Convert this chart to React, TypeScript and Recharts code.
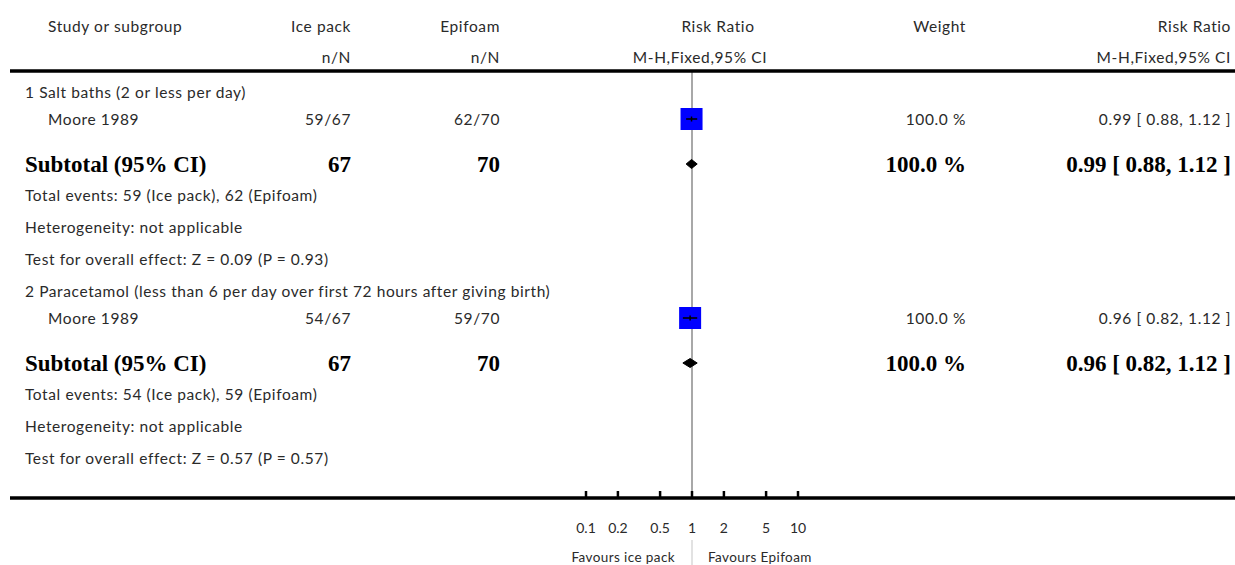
import React from 'react';
import { ScatterChart, Scatter, XAxis, YAxis, ReferenceLine } from 'recharts';

// ---------- data ----------
const rowKinds = ['group', 'study', 'subtotal', 'note', 'note', 'note', 'group', 'study', 'subtotal', 'note', 'note', 'note'];
const studyLabels = [
  '1 Salt baths (2 or less per day)',
  'Moore 1989',
  'Subtotal (95% CI)',
  'Total events: 59 (Ice pack), 62 (Epifoam)',
  'Heterogeneity: not applicable',
  'Test for overall effect: Z = 0.09 (P = 0.93)',
  '2 Paracetamol (less than 6 per day over first 72 hours after giving birth)',
  'Moore 1989',
  'Subtotal (95% CI)',
  'Total events: 54 (Ice pack), 59 (Epifoam)',
  'Heterogeneity: not applicable',
  'Test for overall effect: Z = 0.57 (P = 0.57)',
];
const icePackCol = ['', '59/67', '67', '', '', '', '', '54/67', '67', '', '', ''];
const epifoamCol = ['', '62/70', '70', '', '', '', '', '59/70', '70', '', '', ''];
const weightCol = ['', '100.0 %', '100.0 %', '', '', '', '', '100.0 %', '100.0 %', '', '', ''];
const rrCol = ['', '0.99 [ 0.88, 1.12 ]', '0.99 [ 0.88, 1.12 ]', '', '', '', '', '0.96 [ 0.82, 1.12 ]', '0.96 [ 0.82, 1.12 ]', '', '', ''];

const studyRows = [1, 7];
const studyRR = [0.99, 0.96];
const studyLo = [0.88, 0.82];
const studyHi = [1.12, 1.12];
const studyWeight = [100, 100];

const subtotalRows = [2, 8];
const subtotalRR = [0.99, 0.96];
const subtotalLo = [0.88, 0.82];
const subtotalHi = [1.12, 1.12];

const xTicks = [0.1, 0.2, 0.5, 1, 2, 5, 10];
const header1 = ['Study or subgroup', 'Ice pack', 'Epifoam', 'Risk Ratio', 'Weight', 'Risk Ratio'];
const header2 = ['', 'n/N', 'n/N', 'M-H,Fixed,95% CI', '', 'M-H,Fixed,95% CI'];
const favoursLeft = 'Favours ice pack';
const favoursRight = 'Favours Epifoam';

// ---------- layout ----------
const W = 1235;
const H = 565;
const PLOT_LEFT = 586;
const PLOT_RIGHT = 798;
const PLOT_TOP = 71;
const PLOT_BOTTOM = 498;
const XAXIS_H = 30;
const ROW = 32;
const FIRST_OFFSET = 21;

const COL_GROUP_X = 25;
const COL_STUDY_X = 48;
const COL_ICE_R = 351;
const COL_EPI_R = 500;
const COL_PLOT_C = 692;
const COL_WEIGHT_R = 966;
const COL_RR_R = 1231;

const SANS = 'Lato, "Open Sans", sans-serif';
const SERIF = '"Liberation Serif", "DejaVu Serif", serif';
const sansStyle = { fontFamily: SANS, fontSize: 15.5, letterSpacing: 0.6, fill: '#2a2a2a' };
const boldStyle = { fontFamily: SERIF, fontSize: 23, fontWeight: 700, fill: '#000' };

function stepBefore(kind: string, prev: string): number {
  if (kind === 'study' && prev === 'group') return 27;
  if (kind === 'subtotal') return 45;
  if (prev === 'subtotal') return 31;
  return ROW;
}
const rowOffsets: number[] = [];
rowKinds.forEach((k, i) => {
  if (i === 0) rowOffsets.push(FIRST_OFFSET);
  else rowOffsets.push(rowOffsets[i - 1] + stepBefore(k, rowKinds[i - 1]));
});
const rowY = rowOffsets.map((o) => o / ROW);
const Y_MAX = (PLOT_BOTTOM - PLOT_TOP) / ROW;

const textData = rowKinds.map((_, i) => ({ x: 1, y: rowY[i], i }));
const squareData = studyRows.map((r, k) => ({ x: studyRR[k], y: rowY[r], weight: studyWeight[k] }));
const ciSets = studyRows.map((r, k) => [
  { x: studyLo[k], y: rowY[r] },
  { x: studyRR[k], y: rowY[r] },
  { x: studyHi[k], y: rowY[r] },
]);
const diamondSets = subtotalRows.map((r, k) => [
  { x: subtotalLo[k], y: rowY[r] },
  { x: subtotalRR[k], y: rowY[r] },
  { x: subtotalHi[k], y: rowY[r] },
]);

const RowText = (props: any) => {
  const { cy, payload } = props;
  const i = payload.i;
  const kind = rowKinds[i];
  const st = kind === 'subtotal' ? boldStyle : sansStyle;
  return (
    <g>
      <text x={kind === 'study' ? COL_STUDY_X : COL_GROUP_X} y={cy} dominantBaseline="central" {...st}>
        {studyLabels[i]}
      </text>
      {icePackCol[i] ? (
        <text x={COL_ICE_R} y={cy} textAnchor="end" dominantBaseline="central" {...st}>{icePackCol[i]}</text>
      ) : null}
      {epifoamCol[i] ? (
        <text x={COL_EPI_R} y={cy} textAnchor="end" dominantBaseline="central" {...st}>{epifoamCol[i]}</text>
      ) : null}
      {weightCol[i] ? (
        <text x={COL_WEIGHT_R} y={cy} textAnchor="end" dominantBaseline="central" {...st}>{weightCol[i]}</text>
      ) : null}
      {rrCol[i] ? (
        <text x={COL_RR_R} y={cy} textAnchor="end" dominantBaseline="central" {...st}>{rrCol[i]}</text>
      ) : null}
    </g>
  );
};

const SquareShape = (props: any) => {
  const { cx, cy, payload } = props;
  const s = 22 * Math.sqrt(payload.weight / 100);
  return <rect x={cx - s / 2} y={cy - s / 2} width={s} height={s} fill="#0000ff" />;
};

const Nothing = () => <g />;

const ciLine = (props: any) => {
  const p = props.points;
  if (!p || p.length < 3) return <g />;
  return (
    <g>
      <line x1={p[0].x} x2={p[2].x} y1={p[0].y} y2={p[2].y} stroke="#000" strokeWidth={1.6} />
      <line x1={p[1].x} x2={p[1].x} y1={p[1].y - 2.5} y2={p[1].y + 2.5} stroke="#000" strokeWidth={1.5} />
    </g>
  );
};

const diamondLine = (props: any) => {
  const p = props.points;
  if (!p || p.length < 3) return <g />;
  const h = 4.5;
  const d = `M${p[0].x},${p[0].y} L${p[1].x},${p[1].y - h} L${p[2].x},${p[2].y} L${p[1].x},${p[1].y + h} Z`;
  return <path d={d} fill="#000" stroke="#000" strokeWidth={1} />;
};

const AxisTick = (props: any) => {
  const { x, y, payload } = props;
  return (
    <g>
      <line x1={x} x2={x} y1={y - 7} y2={y} stroke="#000" strokeWidth={2.5} />
      <text x={x} y={y + 29} textAnchor="middle" dominantBaseline="central" fontFamily={SANS} fontSize={14} fill="#2a2a2a">
        {String(payload.value)}
      </text>
    </g>
  );
};

export default function App() {
  const hdrX = [COL_STUDY_X, COL_ICE_R, COL_EPI_R, 718, COL_WEIGHT_R, COL_RR_R];
  const hdr2X = [COL_STUDY_X, COL_ICE_R, COL_EPI_R, 700, COL_WEIGHT_R, COL_RR_R];
  const hdrAnchor = ['start', 'end', 'end', 'middle', 'end', 'end'];
  return (
    <div style={{ position: 'absolute', left: 0, top: 0, width: W, height: H, background: '#fff' }}>
      <ScatterChart
        width={W}
        height={H}
        margin={{ top: PLOT_TOP, right: W - PLOT_RIGHT, bottom: H - PLOT_BOTTOM - XAXIS_H, left: PLOT_LEFT }}
      >
        <XAxis
          type="number"
          dataKey="x"
          scale="log"
          domain={[0.1, 10]}
          ticks={xTicks}
          interval={0}
          height={XAXIS_H}
          axisLine={false}
          tickLine={false}
          tickSize={0}
          tickMargin={0}
          tick={<AxisTick />}
        />
        <YAxis type="number" dataKey="y" domain={[0, Y_MAX]} reversed hide />
        <ReferenceLine x={1} stroke="#a8a8a8" strokeWidth={2} />
        <Scatter data={textData} shape={<RowText />} isAnimationActive={false} />
        <Scatter data={squareData} shape={<SquareShape />} isAnimationActive={false} />
        {ciSets.map((d, k) => (
          <Scatter key={'ci' + k} data={d} shape={<Nothing />} line={ciLine} isAnimationActive={false} />
        ))}
        {diamondSets.map((d, k) => (
          <Scatter key={'dm' + k} data={d} shape={<Nothing />} line={diamondLine} isAnimationActive={false} />
        ))}
      </ScatterChart>
      <svg width={W} height={H} style={{ position: 'absolute', left: 0, top: 0, pointerEvents: 'none' }}>
        {header1.map((t, k) =>
          t ? (
            <text key={'h1' + k} x={hdrX[k]} y={26} textAnchor={hdrAnchor[k] as any} dominantBaseline="central" {...sansStyle}>
              {t}
            </text>
          ) : null
        )}
        {header2.map((t, k) =>
          t ? (
            <text key={'h2' + k} x={hdr2X[k]} y={57} textAnchor={hdrAnchor[k] as any} dominantBaseline="central" {...sansStyle}>
              {t}
            </text>
          ) : null
        )}
        <line x1={10} x2={W} y1={PLOT_TOP} y2={PLOT_TOP} stroke="#000" strokeWidth={3.5} />
        <line x1={10} x2={W} y1={PLOT_BOTTOM} y2={PLOT_BOTTOM} stroke="#000" strokeWidth={3.5} />
        <line x1={COL_PLOT_C} x2={COL_PLOT_C} y1={540} y2={H} stroke="#d8d8d8" strokeWidth={1.5} />
        <text x={675} y={557} textAnchor="end" dominantBaseline="central" fontFamily={SANS} fontSize={13.5} letterSpacing={0.4} fill="#2a2a2a">
          {favoursLeft}
        </text>
        <text x={708} y={557} textAnchor="start" dominantBaseline="central" fontFamily={SANS} fontSize={13.5} letterSpacing={0.4} fill="#2a2a2a">
          {favoursRight}
        </text>
      </svg>
    </div>
  );
}
